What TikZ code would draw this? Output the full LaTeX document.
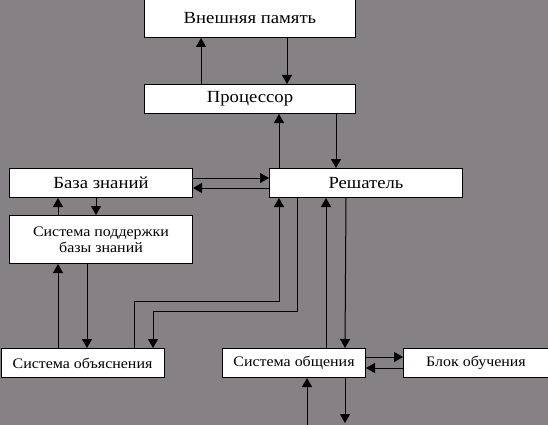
\documentclass[tikz,border=0pt]{standalone}
\usepackage{fontspec}
\setmainfont{Liberation Serif}
\newfontfamily\wideserif[FakeStretch=1.1]{Liberation Serif}
\usetikzlibrary{arrows.meta}
\definecolor{bg}{RGB}{133,129,133}
\tikzset{
  box/.style={draw=black, fill=white, line width=1pt, inner sep=0pt, anchor=north west, align=center},
  bigtext/.style={font=\wideserif\fontsize{17}{20}\selectfont},
  smalltext/.style={font=\wideserif\fontsize{14.5}{16}\selectfont},
  arr/.style={line width=1pt, -{Triangle[width=10pt,length=9pt]}},
  ln/.style={line width=1pt}
}
\begin{document}
\begin{tikzpicture}[x=1pt,y=-1pt]
\fill[bg] (0,0) rectangle (548,425);
\useasboundingbox (0,0) rectangle (548,425);
% boxes
\node[box,bigtext,minimum width=211pt,minimum height=38pt] (mem) at (144,-1) {Внешняя память};
\node[box,bigtext,minimum width=211pt,minimum height=29pt] (proc) at (144,84) {Процессор};
\node[box,bigtext,minimum width=183pt,minimum height=29pt] (kb) at (9,168) {База знаний};
\node[box,smalltext,minimum width=183pt,minimum height=48pt] (sup) at (9,215) {Система поддержки\\базы знаний};
\node[box,bigtext,minimum width=193pt,minimum height=29pt] (sol) at (269,168) {Решатель};
\node[box,smalltext,minimum width=163pt,minimum height=29pt] (expl) at (0.5,348) {Система объяснения};
\node[box,smalltext,minimum width=143pt,minimum height=29pt] (comm) at (222,348) {Система общения};
\node[box,smalltext,minimum width=145pt,minimum height=29pt] (learn) at (403,348) {Блок обучения};
\coordinate (in1) at (307,426);
\coordinate (out1) at (345,423);
% connectors
\draw[arr] ([xshift=57pt]proc.north west) -- ([xshift=57pt]mem.south west);
\draw[arr] ([xshift=143pt]mem.south west) -- ([xshift=143pt]proc.north west);
\draw[arr] ([xshift=10pt]sol.north west) -- ([xshift=135pt]proc.south west);
\draw[arr] ([xshift=192pt]proc.south west) -- ([xshift=67pt]sol.north west);
\draw[arr] ([yshift=-10pt]kb.north east) -- ([yshift=-10pt]sol.north west);
\draw[arr] ([yshift=-20pt]sol.north west) -- ([yshift=-20pt]kb.north east);
\draw[arr] ([xshift=49pt]sup.north west) -- ([xshift=49pt]kb.south west);
\draw[arr] ([xshift=87pt]kb.south west) -- ([xshift=87pt]sup.north west);
\draw[arr] ([xshift=57.5pt]expl.north west) -- ([xshift=49pt]sup.south west);
\draw[arr] ([xshift=78pt]sup.south west) -- ([xshift=86.5pt]expl.north west);
\draw[arr] ([xshift=133.5pt]expl.north west) -- ++(0,-47) -| ([xshift=10pt]sol.south west);
\draw[arr] ([xshift=28pt]sol.south west) -- ++(0,113) -| ([xshift=152.5pt]expl.north west);
\draw[arr] ([xshift=104pt]comm.north west) -- ([xshift=57pt]sol.south west);
\draw[arr] ([xshift=77pt]sol.south west) -- ([xshift=123pt]comm.north west);
\draw[arr] ([yshift=-9pt]comm.north east) -- ([yshift=-9pt]learn.north west);
\draw[arr] ([yshift=-20pt]learn.north west) -- ([yshift=-20pt]comm.north east);
\draw[arr] (in1) -- ([xshift=85pt]comm.south west);
\draw[arr] ([xshift=123pt]comm.south west) -- (out1);
\end{tikzpicture}
\end{document}
